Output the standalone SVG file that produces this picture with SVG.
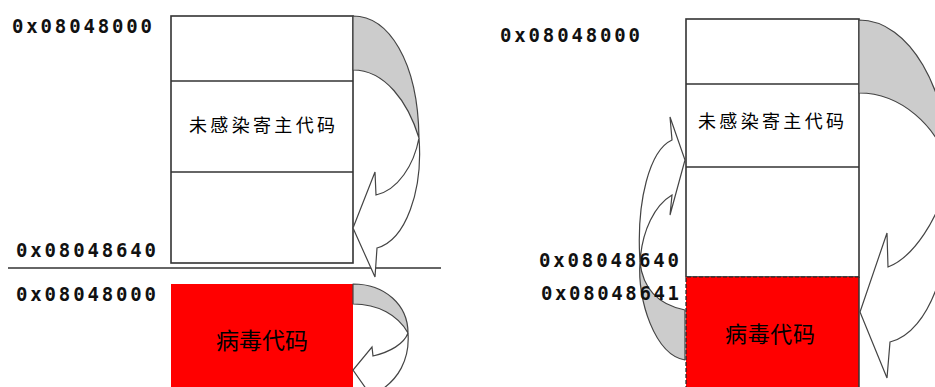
<svg xmlns="http://www.w3.org/2000/svg" width="935" height="387" viewBox="0 0 935 387">
<style>
.bg{fill:#fff}
.box{fill:#fff;stroke:#333;stroke-width:1.6}
.red{fill:#ff0000}
.dash{fill:none;stroke:#222;stroke-width:1.2;stroke-dasharray:4 2}
.addr{font-family:"DejaVu Sans Mono","Liberation Mono",monospace;font-weight:bold;font-size:19px;fill:#111}
.cn{font-family:"Noto Sans CJK SC","Noto Sans CJK JP",sans-serif;fill:#000}
.back{fill:#cccccc;stroke:#444;stroke-width:1.2;stroke-linejoin:round}
.front{fill:#fff;stroke:#444;stroke-width:1.2;stroke-linejoin:miter}
.sep{stroke:#333;stroke-width:1.5}
</style>
<rect class="bg" x="0" y="0" width="935" height="387"/>

<g id="left-host">
  <rect class="box" x="171" y="16" width="182" height="247"/>
  <line class="sep" x1="171" y1="81" x2="353" y2="81"/>
  <line class="sep" x1="171" y1="172" x2="353" y2="172"/>
  <text class="cn" x="262" y="132" font-size="18" text-anchor="middle" textLength="146" lengthAdjust="spacing">未感染寄主代码</text>
</g>
<g id="left-virus">
  <rect class="red" x="171" y="284" width="182" height="110"/>
  <text class="cn" x="262" y="349" font-size="23" text-anchor="middle" textLength="92" lengthAdjust="spacing">病毒代码</text>
</g>
<g id="separator">
  <line class="sep" x1="8" y1="268" x2="441" y2="268"/>
</g>
<g id="left-labels">
  <text class="addr" x="12" y="33" textLength="140" lengthAdjust="spacing">0x08048000</text>
  <text class="addr" x="16" y="257" textLength="140" lengthAdjust="spacing">0x08048640</text>
  <text class="addr" x="16" y="301" textLength="140" lengthAdjust="spacing">0x08048000</text>
</g>

<g id="right-host">
  <rect class="box" x="686" y="19" width="173" height="258"/>
  <line class="sep" x1="686" y1="84" x2="859" y2="84"/>
  <line class="sep" x1="686" y1="167" x2="859" y2="167"/>
  <text class="cn" x="771" y="128" font-size="18" text-anchor="middle" textLength="146" lengthAdjust="spacing">未感染寄主代码</text>
</g>
<g id="right-virus">
  <rect class="red" x="686" y="277" width="173" height="115"/>
  <path class="dash" d="M859,277 H686 V390"/>
  <line class="sep" x1="859" y1="277" x2="859" y2="390"/>
  <text class="cn" x="770" y="342" font-size="22" text-anchor="middle" textLength="90" lengthAdjust="spacing">病毒代码</text>
</g>

<g id="connectors">
  <path class="back" d="M353,16 C388,16 418,60 419,138 C408,102 385,70 353,70 Z"/>
  <path class="front" d="M419,138 C423,190 406,240 377,248 L375,277 L353,228 L375,172 L376,195 C398,190 414,165 419,138 Z"/>
  <path class="back" d="M353,284 C385,284 408,305 408,333 C398,315 378,304 353,304 Z"/>
  <path class="front" d="M408,333 C410,360 398,380 378,392 L374,400 L353,370 L372,347 L373,356 C390,352 404,344 408,333 Z"/>
  <path class="back" d="M859,20 C910,20 948,90 950,170 C938,125 900,93 859,93 Z"/>
  <path class="front" d="M950,170 C956,260 930,332 890,342 L887,378 L860,312 L887,233 L888,267 C912,258 940,220 950,170 Z"/>
  <path class="back" d="M685,310 C660,305 643,290 640,262 C637,300 655,355 685,360 Z"/>
  <path class="front" d="M640,262 C636,200 650,150 672,140 L670,117 L685,160 L670,215 L672,195 C655,205 642,230 640,262 Z"/>
</g>

<g id="right-labels">
  <text class="addr" x="500" y="42" textLength="140" lengthAdjust="spacing">0x08048000</text>
  <text class="addr" x="539" y="267" textLength="140" lengthAdjust="spacing">0x08048640</text>
  <text class="addr" x="541" y="300" textLength="138" lengthAdjust="spacing">0x08048641</text>
</g>
</svg>
